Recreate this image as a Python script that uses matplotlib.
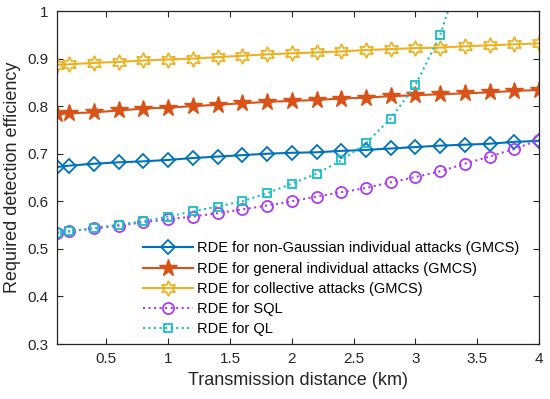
"""
Required detection efficiency vs transmission distance.
"""

import matplotlib
matplotlib.use("Agg")
import matplotlib.pyplot as plt

distance = [0.1, 0.2, 0.4, 0.6, 0.8, 1.0, 1.2, 1.4, 1.6, 1.8, 2.0,
            2.2, 2.4, 2.6, 2.8, 3.0, 3.2, 3.4, 3.6, 3.8, 4.0]

rde_nongauss = [0.672, 0.675, 0.679, 0.682, 0.684, 0.687, 0.691, 0.694, 0.697, 0.700, 0.702,
                0.703, 0.706, 0.708, 0.711, 0.714, 0.717, 0.719, 0.721, 0.725, 0.727]
rde_general = [0.783, 0.785, 0.787, 0.791, 0.795, 0.797, 0.800, 0.803, 0.806, 0.809, 0.811,
               0.813, 0.816, 0.818, 0.821, 0.823, 0.825, 0.827, 0.829, 0.832, 0.834]
rde_collective = [0.887, 0.888, 0.891, 0.893, 0.896, 0.898, 0.900, 0.903, 0.906, 0.909, 0.911,
                  0.913, 0.915, 0.918, 0.920, 0.922, 0.923, 0.926, 0.928, 0.930, 0.932]
rde_sql = [0.534, 0.537, 0.543, 0.549, 0.556, 0.562, 0.568, 0.575, 0.583, 0.591, 0.600,
           0.610, 0.619, 0.628, 0.640, 0.651, 0.663, 0.679, 0.694, 0.710, 0.729]
rde_ql = [0.534, 0.537, 0.543, 0.551, 0.558, 0.568, 0.579, 0.589, 0.600, 0.617, 0.637,
          0.658, 0.686, 0.722, 0.774, 0.844, 0.949, 1.11, 1.36, 1.72, 2.25]

labels = [
    "RDE for non-Gaussian individual attacks (GMCS)",
    "RDE for general individual attacks (GMCS)",
    "RDE for collective attacks (GMCS)",
    "RDE for SQL",
    "RDE for QL",
]

plt.rcParams["font.family"] = ["Liberation Sans", "DejaVu Sans"]
dark = "#262626"

fig = plt.figure(figsize=(5.5, 3.99), dpi=100)
ax = fig.add_axes([0.1036, 0.1378, 0.98 - 0.1036, 0.9724 - 0.1378])

ax.plot(distance, rde_nongauss, "-", color="#0072BD", lw=1.5, marker="D", ms=7,
        mfc="none", mew=1.3, label=labels[0])
ax.plot(distance, rde_general, "-", color="#D95319", lw=1.5, marker="*", ms=13,
        mfc="#D95319", mew=1.0, label=labels[1])
ax.plot(distance, rde_collective, "-", color="#EDB120", lw=1.5, marker=(6, 1, 0), ms=11,
        mfc="none", mew=1.2, label=labels[2])
ax.plot(distance, rde_sql, ":", color="#A93DF5", lw=1.5, marker="o", ms=8,
        mfc="none", mew=1.3, label=labels[3])
ax.plot(distance, rde_ql, ":", color="#17BFC4", lw=1.5, marker="s", ms=6,
        mfc="none", mew=1.3, label=labels[4])

ax.set_xlim(0.1, 4)
ax.set_ylim(0.3, 1)
ax.set_xticks([0.5, 1, 1.5, 2, 2.5, 3, 3.5, 4])
ax.set_xticklabels(["0.5", "1", "1.5", "2", "2.5", "3", "3.5", "4"])
ax.set_yticks([0.3, 0.4, 0.5, 0.6, 0.7, 0.8, 0.9, 1.0])
ax.set_yticklabels(["0.3", "0.4", "0.5", "0.6", "0.7", "0.8", "0.9", "1"])
ax.tick_params(direction="in", top=True, right=True, length=4, width=0.8,
               labelsize=11, colors=dark, pad=6)
for s in ax.spines.values():
    s.set_color(dark)
    s.set_linewidth(0.9)

ax.set_xlabel("Transmission distance (km)", fontsize=13, color=dark, labelpad=4)
ax.set_ylabel("Required detection efficiency", fontsize=13, color=dark, labelpad=5)

ax.legend(loc="lower left", bbox_to_anchor=(143 / 550, 1 - 336 / 399),
          bbox_transform=fig.transFigure, frameon=False, fontsize=10.5,
          handlelength=3.4, handletextpad=0.3, labelspacing=0.42,
          borderpad=0, borderaxespad=0)

fig.savefig("out.png", dpi=100)
